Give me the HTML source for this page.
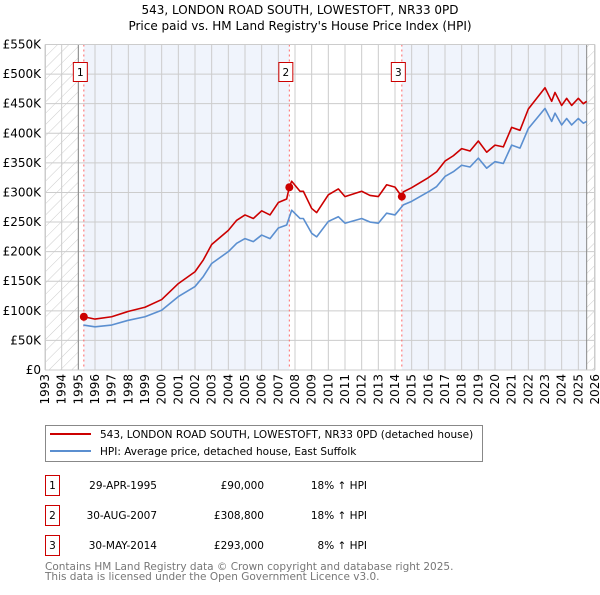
<!DOCTYPE html>
<html><head><meta charset="utf-8"><style>
body{margin:0;background:#fff;width:600px;height:590px;overflow:hidden}
svg{font-family:"DejaVu Sans","Liberation Sans",sans-serif}
</style></head><body>
<svg id="c" width="600" height="590" xmlns="http://www.w3.org/2000/svg">
<defs><pattern id="hatch" width="8" height="8" patternUnits="userSpaceOnUse" patternTransform="rotate(45)"><line x1="0" y1="0" x2="0" y2="8" stroke="#ccc" stroke-width="1"/></pattern></defs>
<text x="300" y="14" text-anchor="middle" font-size="12">543, LONDON ROAD SOUTH, LOWESTOFT, NR33 0PD</text>
<text x="300" y="30" text-anchor="middle" font-size="12">Price paid vs. HM Land Registry's House Price Index (HPI)</text>
<g id="plot"></g>
<g>
<rect x="45.5" y="425.5" width="437" height="36" fill="#fff" stroke="#888"/>
<line x1="50" y1="434" x2="91" y2="434" stroke="#cc0000" stroke-width="2"/>
<text x="100" y="438" font-size="10.5">543, LONDON ROAD SOUTH, LOWESTOFT, NR33 0PD (detached house)</text>
<line x1="50" y1="451" x2="91" y2="451" stroke="#5b8fd0" stroke-width="2"/>
<text x="100" y="455" font-size="10.5">HPI: Average price, detached house, East Suffolk</text>
</g>
<g font-size="10.5">
<rect x="45.5" y="475.5" width="14" height="20" fill="#fff" stroke="#cc0000"/><text x="52.5" y="489" text-anchor="middle">1</text>
<text x="157" y="489" text-anchor="end">29-APR-1995</text><text x="264" y="489" text-anchor="end">£90,000</text><text x="367" y="489" text-anchor="end">18% ↑ HPI</text>
<rect x="45.5" y="505.5" width="14" height="20" fill="#fff" stroke="#cc0000"/><text x="52.5" y="519" text-anchor="middle">2</text>
<text x="157" y="519" text-anchor="end">30-AUG-2007</text><text x="264" y="519" text-anchor="end">£308,800</text><text x="367" y="519" text-anchor="end">18% ↑ HPI</text>
<rect x="45.5" y="535.5" width="14" height="20" fill="#fff" stroke="#cc0000"/><text x="52.5" y="549" text-anchor="middle">3</text>
<text x="157" y="549" text-anchor="end">30-MAY-2014</text><text x="264" y="549" text-anchor="end">£293,000</text><text x="367" y="549" text-anchor="end">8% ↑ HPI</text>
</g>
<text x="45" y="570" font-size="10.5" fill="#777">Contains HM Land Registry data © Crown copyright and database right 2025.</text>
<text x="45" y="580" font-size="10.5" fill="#777">This data is licensed under the Open Government Licence v3.0.</text>
</svg>
<script>
const hpiYears=[1995.3,1996,1997,1998,1999,2000,2001,2002,2002.5,2003,2004,2004.5,2005,2005.5,2006,2006.5,2007,2007.5,2007.8,2008.3,2008.5,2009,2009.3,2010,2010.6,2011,2012,2012.5,2013,2013.5,2014,2014.5,2015,2016,2016.5,2017,2017.5,2018,2018.5,2019,2019.5,2020,2020.5,2021,2021.5,2022,2022.5,2023,2023.4,2023.6,2024,2024.3,2024.6,2025,2025.3,2025.5];
const hpiValues=[76,73,76,84,90,101,124,141,158,180,200,214,222,217,228,222,240,245,270,256,256,231,225,251,259,248,256,250,248,265,262,279,285,301,310,327,335,346,343,358,341,352,349,380,375,408,425,442,420,434,414,425,414,425,417,420];
const priceYears=[1995.33,1996,1997,1998,1999,2000,2001,2002,2002.5,2003,2004,2004.5,2005,2005.5,2006,2006.5,2007,2007.5,2007.66,2007.8,2008.3,2008.5,2009,2009.3,2010,2010.6,2011,2012,2012.5,2013,2013.5,2014,2014.41,2014.5,2015,2016,2016.5,2017,2017.5,2018,2018.5,2019,2019.5,2020,2020.5,2021,2021.5,2022,2022.5,2023,2023.4,2023.6,2024,2024.3,2024.6,2025,2025.3,2025.5];
const priceValues=[90,86,90,99,106,119,146,166,186,212,236,253,262,256,269,262,283,289,309,319,302,302,273,266,296,306,293,302,295,293,313,309,293,301,308,325,335,353,362,374,370,387,368,380,377,410,405,441,459,477,454,469,447,459,447,459,450,454];
const saleYears=[1995.33,2007.66,2014.41];
const saleValues=[90,308.8,293];
const yTicks=[0,50,100,150,200,250,300,350,400,450,500,550];
const yTickLabels=["£0","£50K","£100K","£150K","£200K","£250K","£300K","£350K","£400K","£450K","£500K","£550K"];
const xTicks=[1993,1994,1995,1996,1997,1998,1999,2000,2001,2002,2003,2004,2005,2006,2007,2008,2009,2010,2011,2012,2013,2014,2015,2016,2017,2018,2019,2020,2021,2022,2023,2024,2025,2026];

const X0=45,X1=595,Y0=370,Y1=44.5;
const sx=y=>X0+(y-1993)/(2026-1993)*(X1-X0);
const sy=v=>Y0-v/550*(Y0-Y1);
const NS="http://www.w3.org/2000/svg";
const g=document.getElementById('plot');
function mk(t,a,p){const e=document.createElementNS(NS,t);for(const k in a)e.setAttribute(k,a[k]);(p||g).appendChild(e);return e;}

let e;
e=mk('rect',{x:X0,y:Y1,width:X1-X0,height:Y0-Y1,fill:'#fff'});


e=mk('rect',{x:sx(saleYears[0]),y:Y1,width:sx(saleYears[1])-sx(saleYears[0]),height:Y0-Y1,fill:'#f0f4fc'});


e=mk('rect',{x:sx(saleYears[2]),y:Y1,width:sx(2025.5)-sx(saleYears[2]),height:Y0-Y1,fill:'#f0f4fc'});


e=mk('rect',{x:X0,y:Y1,width:sx(1995)-X0,height:Y0-Y1,fill:'url(#hatch)'});


e=mk('rect',{x:sx(2025.5),y:Y1,width:X1-sx(2025.5),height:Y0-Y1,fill:'url(#hatch)'});



xTicks.forEach(t=>{
 e=mk('line',{x1:sx(t),x2:sx(t),y1:Y1,y2:Y0,stroke:'#ccc','stroke-width':1});
 
 
 e=mk('text',{x:0,y:0,'font-size':12,'text-anchor':'end',transform:`translate(${sx(t)+4},374) rotate(-90)`});
 e.textContent=t;
 
 
});
yTicks.forEach((t,i)=>{
 e=mk('line',{x1:X0,x2:X1,y1:sy(t),y2:sy(t),stroke:'#ccc','stroke-width':1});
 
 
 e=mk('text',{x:41,y:sy(t)+4,'font-size':12,'text-anchor':'end'});
 e.textContent=yTickLabels[i];
 
 
});
e=mk('line',{x1:sx(1995),x2:sx(1995),y1:Y1,y2:Y0,stroke:'#888'});


e=mk('line',{x1:sx(2025.5),x2:sx(2025.5),y1:Y1,y2:Y0,stroke:'#888'});



saleYears.forEach((y,i)=>{
 e=mk('line',{x1:sx(y),x2:sx(y),y1:Y1,y2:Y0,stroke:'#f66','stroke-dasharray':'2,3'});
 
 
});

e=mk('polyline',{points:hpiYears.map((y,i)=>sx(y)+','+sy(hpiValues[i])).join(' '),fill:'none',stroke:'#5b8fd0','stroke-width':1.6,'stroke-linejoin':'round'});


e=mk('polyline',{points:priceYears.map((y,i)=>sx(y)+','+sy(priceValues[i])).join(' '),fill:'none',stroke:'#cc0000','stroke-width':1.6,'stroke-linejoin':'round'});



saleYears.forEach((y,i)=>{
 e=mk('circle',{cx:sx(y),cy:sy(saleValues[i]),r:4,fill:'#cc0000'});
 
 
 const bx=sx(y)-7-3.5;
 e=mk('rect',{x:bx,y:62.5,width:14,height:19,fill:'#fff',stroke:'#cc0000'});
 
 
 e=mk('text',{x:bx+7,y:76,'font-size':10.5,'text-anchor':'middle'});
 e.textContent=String(i+1);
 
 
});
e=mk('rect',{x:X0+.5,y:Y1,width:X1-X0-1,height:Y0-Y1,fill:'none',stroke:'#ccc'});


</script>
</body></html>
